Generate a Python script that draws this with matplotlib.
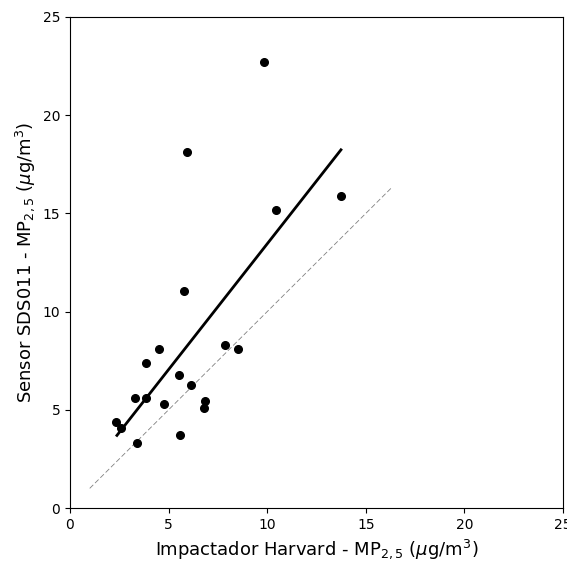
import numpy as np
import matplotlib
matplotlib.use("Agg")
import matplotlib.pyplot as plt

# Harvard impactor vs SDS011 sensor, PM2.5
harvard = [9.84, 5.93, 10.45, 13.74, 5.78, 7.86, 8.52, 3.85, 4.51, 5.53,
           6.14, 3.30, 3.85, 4.77, 6.85, 6.80, 2.33, 2.59, 3.40, 5.58]
sensor = [22.71, 18.13, 15.17, 15.89, 11.05, 8.30, 8.10, 7.38, 8.10, 6.77,
          6.26, 5.60, 5.60, 5.30, 5.45, 5.09, 4.38, 4.07, 3.31, 3.72]

# fitted line and 1:1 reference
fit_x = [2.38, 13.74]
fit_slope = 1.28
fit_icpt = 0.65
ref_x = [1.0, 16.3]

fig = plt.figure(figsize=(5.67, 5.65), dpi=100)
ax = fig.add_axes([70/567, 57/565, 493/567, 491/565])

ax.plot(ref_x, ref_x, color="gray", lw=0.6, ls=(0, (6, 3)))
fx = np.array(fit_x)
ax.plot(fx, fit_slope*fx + fit_icpt, color="black", lw=2)
ax.plot(harvard, sensor, "o", color="black", ms=5.5)

ax.set_xlim(0, 25)
ax.set_ylim(0, 25)
ax.set_xticks([0, 5, 10, 15, 20, 25])
ax.set_yticks([0, 5, 10, 15, 20, 25])
ax.tick_params(labelsize=10)
ax.set_xlabel(r"Impactador Harvard - MP$_{2,5}$ ($\mu$g/m$^3$)", fontsize=13)
ax.set_ylabel(r"Sensor SDS011 - MP$_{2,5}$ ($\mu$g/m$^3$)", fontsize=13)

fig.savefig("out.png", dpi=100)
